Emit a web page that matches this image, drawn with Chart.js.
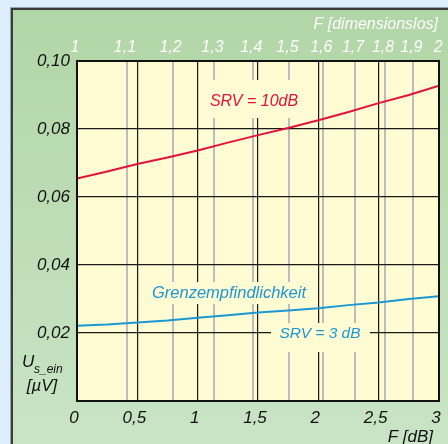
<!DOCTYPE html>
<html>
<head>
<meta charset="utf-8">
<script src="https://cdn.jsdelivr.net/npm/chart.js@4/dist/chart.umd.min.js"></script>
<style>
  html, body { margin: 0; padding: 0; background: #dcedfb; }
  canvas { display: block; }
</style>
</head>
<body>
<canvas id="chart" width="448" height="444"></canvas>
<script>
// noise figure F in dB along the bottom axis
const fDb = [0, 0.25, 0.5, 0.75, 1.0, 1.25, 1.5, 1.75, 2.0, 2.25, 2.5, 2.75, 3.0];
// minimum input voltage in µV for SRV = 10 dB and SRV = 3 dB
const srv10 = [0.0654, 0.0675, 0.0697, 0.0716, 0.0737, 0.0760, 0.0782, 0.0803, 0.0826, 0.0850, 0.0876, 0.0900, 0.0927];
const srv3  = [0.0221, 0.0225, 0.0231, 0.0237, 0.0245, 0.0252, 0.0260, 0.0266, 0.0273, 0.0282, 0.0290, 0.0300, 0.0308];
// top scale: dimensionless noise factor
const topF = [1, 1.1, 1.2, 1.3, 1.4, 1.5, 1.6, 1.7, 1.8, 1.9, 2];
const topLabels = ['1', '1,1', '1,2', '1,3', '1,4', '1,5', '1,6', '1,7', '1,8', '1,9', '2'];

const FONT = 'Liberation Sans, Arial, sans-serif';
const RED = '#e2123c';
const BLUE = '#1b97d4';
const PLOT_BG = '#fffbd3';

const comma = (v) => v.toFixed(2).replace('.', ',');

// background panels, label boxes, frame and axis titles
const decor = {
  id: 'decor',
  beforeDraw(chart) {
    const { ctx, chartArea: a, width, height } = chart;
    ctx.save();
    ctx.fillStyle = '#dcedfb';
    ctx.fillRect(0, 0, width, height);
    const g = ctx.createLinearGradient(0, 8, 0, height);
    g.addColorStop(0, '#b1d6a6');
    g.addColorStop(1, '#c9e4c5');
    ctx.fillStyle = g;
    ctx.fillRect(12, 8, width - 12, height - 8);
    ctx.fillStyle = '#8fa6b5';
    ctx.fillRect(10, 7, 1, height);
    ctx.fillRect(10, 7, width, 1);
    ctx.fillStyle = '#3b3b3b';
    ctx.fillRect(11, 8, 2, height);
    ctx.fillRect(11, 8, width, 2);
    ctx.fillStyle = PLOT_BG;
    ctx.fillRect(a.left, a.top, a.right - a.left, a.bottom - a.top);
    ctx.restore();
  },
  afterDatasetsDraw(chart) {
    const { ctx, chartArea: a } = chart;
    ctx.save();
    // boxes behind the curve labels
    ctx.fillStyle = PLOT_BG;
    ctx.fillRect(206, 80, 94, 38);
    ctx.fillRect(150, 282, 158, 22);
    ctx.fillRect(271, 323, 99, 29);

    ctx.textBaseline = 'middle';
    ctx.textAlign = 'center';
    ctx.fillStyle = RED;
    ctx.font = 'italic 16px ' + FONT;
    ctx.fillText('SRV = 10dB', 254, 102);
    ctx.fillStyle = BLUE;
    ctx.font = 'italic 16.5px ' + FONT;
    ctx.fillText('Grenzempfindlichkeit', 229, 293);
    ctx.font = 'italic 15.5px ' + FONT;
    ctx.fillText('SRV = 3 dB', 320, 334);

    // plot frame
    ctx.strokeStyle = '#111';
    ctx.lineWidth = 2;
    ctx.strokeRect(a.left, a.top, a.right - a.left, a.bottom - a.top);

    // axis titles
    ctx.textAlign = 'right';
    ctx.fillStyle = '#ffffff';
    ctx.font = 'italic 16px ' + FONT;
    ctx.fillText('F [dimensionslos]', 438, 25);
    ctx.fillStyle = '#111';
    ctx.font = 'italic 17px ' + FONT;
    ctx.fillText('F [dB]', 433, 437);

    ctx.textAlign = 'left';
    ctx.textBaseline = 'alphabetic';
    ctx.font = 'italic 17px ' + FONT;
    ctx.fillText('U', 22, 367);
    ctx.font = 'italic 12px ' + FONT;
    ctx.fillText('s_ein', 34, 373);
    ctx.font = 'italic 17px ' + FONT;
    ctx.textAlign = 'center';
    ctx.fillText('[µV]', 42, 391);
    ctx.restore();
  }
};

const fixSize = (w, h) => (scale) => {
  if (w != null) scale.width = w;
  if (h != null) scale.height = h;
  scale.paddingLeft = scale.paddingRight = 0;
  scale.paddingTop = scale.paddingBottom = 0;
};

new Chart(document.getElementById('chart'), {
  type: 'line',
  data: {
    datasets: [
      { data: fDb.map((x, i) => ({ x, y: srv10[i] })), borderColor: RED, borderWidth: 2, pointRadius: 0, tension: 0 },
      { data: fDb.map((x, i) => ({ x, y: srv3[i] })), borderColor: BLUE, borderWidth: 2, pointRadius: 0, tension: 0 }
    ]
  },
  options: {
    responsive: false,
    animation: false,
    layout: { padding: { left: 0, top: 0, right: 9, bottom: 0 } },
    plugins: { legend: { display: false }, tooltip: { enabled: false } },
    scales: {
      x: {
        type: 'linear', position: 'bottom', min: 0, max: 3,
        afterFit: fixSize(null, 43),
        border: { display: false },
        grid: { color: '#1a1a1a', lineWidth: 1.2, drawTicks: false },
        ticks: {
          stepSize: 0.5, padding: 7, labelOffset: -3, maxRotation: 0, autoSkip: false,
          color: '#111', font: { family: FONT, style: 'italic', size: 17 },
          callback: (v) => (v % 1 === 0 ? String(v) : String(v).replace('.', ','))
        }
      },
      xTop: {
        type: 'linear', position: 'top', min: 0, max: 3,
        afterFit: fixSize(null, 61),
        afterBuildTicks: (scale) => { scale.ticks = topF.map(f => ({ value: 10 * Math.log10(f) })); },
        border: { display: false },
        grid: {
          z: -1, drawTicks: false, lineWidth: 2,
          color: (c) => (c.index === 0 || c.index === topF.length - 1 ? 'rgba(0,0,0,0)' : '#bdbdbd')
        },
        ticks: {
          padding: 4, labelOffset: -2, maxRotation: 0, autoSkip: false,
          color: '#ffffff', font: { family: FONT, style: 'italic', size: 16 },
          callback: (v, i) => topLabels[i]
        }
      },
      y: {
        type: 'linear', position: 'left', min: 0, max: 0.1,
        afterFit: fixSize(77, null),
        border: { display: false },
        grid: { color: '#1a1a1a', lineWidth: 1.2, drawTicks: false },
        ticks: {
          stepSize: 0.02, padding: 7,
          color: '#111', font: { family: FONT, style: 'italic', size: 17 },
          callback: (v) => (v === 0 ? '' : comma(v))
        }
      }
    }
  },
  plugins: [decor]
});
</script>
</body>
</html>
